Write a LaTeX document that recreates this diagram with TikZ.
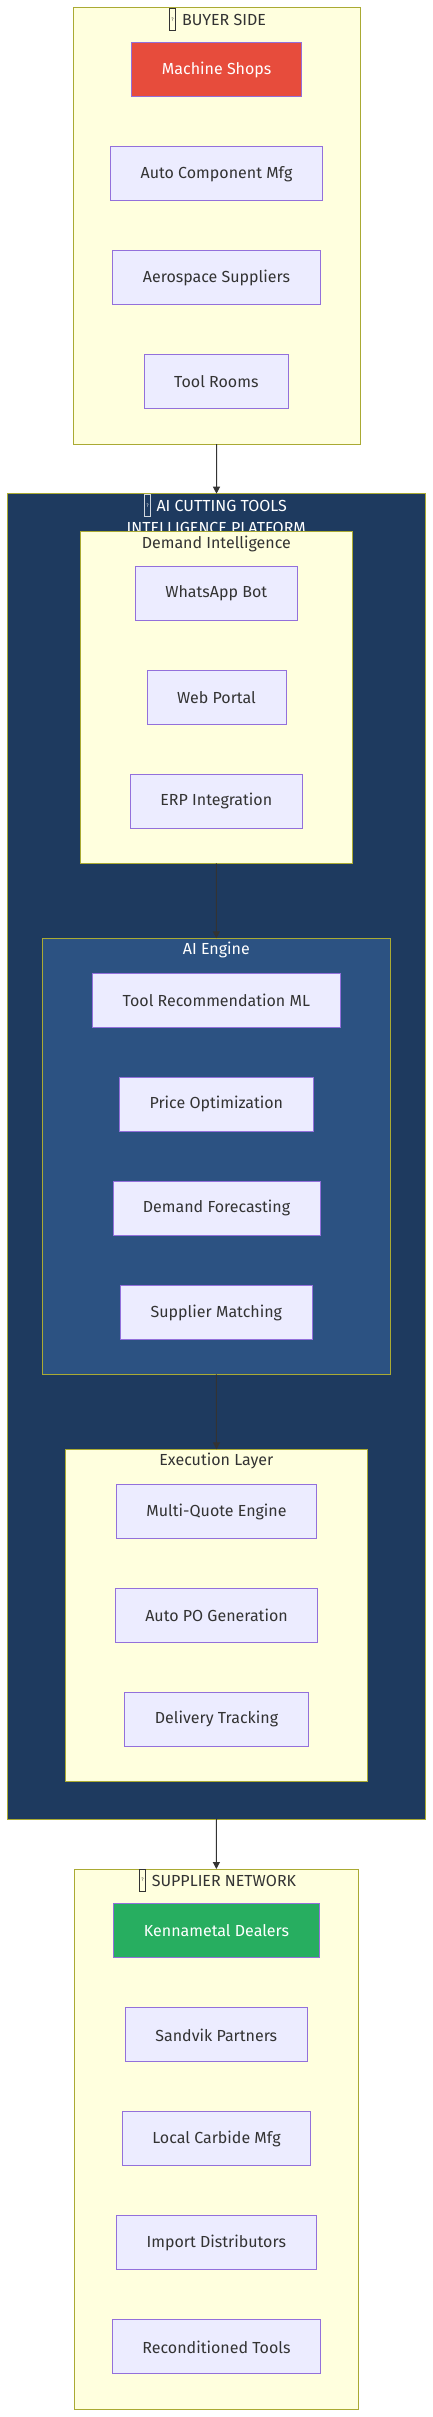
\documentclass[tikz,border=0pt]{standalone}
\usepackage{fontspec}
\setmainfont{Fira Sans}
\usetikzlibrary{arrows.meta}
\definecolor{clfill}{HTML}{FFFFDE}
\definecolor{clstroke}{HTML}{AAAA33}
\definecolor{ndfill}{HTML}{ECECFF}
\definecolor{ndstroke}{HTML}{9370DB}
\definecolor{txt}{HTML}{333333}
\definecolor{navy}{HTML}{1E3A5F}
\definecolor{engine}{HTML}{2C5282}
\definecolor{redn}{HTML}{E74C3C}
\definecolor{greenn}{HTML}{27AE60}
\begin{document}
\begin{tikzpicture}[x=1pt,y=-1pt,
  cluster/.style={draw=clstroke, fill=clfill, line width=1pt, inner sep=0pt, outer sep=0pt},
  nd/.style={draw=ndstroke, fill=ndfill, line width=1pt, minimum height=54pt, inner sep=0pt, outer sep=0pt, text=txt, font=\fontsize{16}{19}\selectfont},
  ttl/.style={text=txt, font=\fontsize{16}{19}\selectfont, inner sep=0pt},
  tofu/.style={draw=txt, line width=0.6pt, minimum width=6.5pt, minimum height=22pt, inner sep=0pt, text=txt, font=\fontsize{5}{5}\selectfont},
  arr/.style={draw=txt, line width=1pt, -{Triangle[length=7pt,width=7pt]}}]
\useasboundingbox (0,0) rectangle (433,2417);
\fill[white] (0,0) rectangle (433,2417);

% BUYER SIDE
\node[cluster, minimum width=286.7pt, minimum height=436.7pt] (buyer) at (216.65,225.65) {};
\node[tofu] (buyericon) at (172.5,19.3) {?};
\node[ttl] (buyertitle) at (224,19.5) {BUYER SIDE};
\node[nd, fill=redn, text=white, minimum width=170pt] (ms) at (216.7,69.85) {Machine Shops};
\node[nd, minimum width=212.4pt] (acm) at (216.5,173.85) {Auto Component Mfg};
\node[nd, minimum width=207.6pt] (aero) at (216.5,277.85) {Aerospace Suppliers};
\node[nd, minimum width=144.7pt] (tr) at (216.35,381.85) {Tool Rooms};

% PLATFORM
\node[cluster, fill=navy, minimum width=417.6pt, minimum height=1325.3pt] (platform) at (216.5,1156.35) {};
\node[tofu, draw=white!80!navy, text=white] (platicon) at (147.5,505.3) {?};
\node[ttl, text=white] (plattitle) at (221.7,505.5) {AI CUTTING TOOLS};
\node[ttl, text=white] (plattitle2) at (216.3,527.5) {INTELLIGENCE PLATFORM};

% Demand Intelligence
\node[cluster, minimum width=272pt, minimum height=332pt] (di) at (216.3,697.3) {};
\node[ttl] (dititle) at (216.3,543.5) {Demand Intelligence};
\node[nd, minimum width=162pt] (wa) at (216.3,593.3) {WhatsApp Bot};
\node[nd, minimum width=139pt] (wp) at (216.5,697.3) {Web Portal};
\node[nd, minimum width=172pt] (erp) at (216.3,801.3) {ERP Integration};

% AI Engine
\node[cluster, fill=engine, minimum width=347.3pt, minimum height=436pt] (ai) at (216.35,1156.3) {};
\node[ttl, text=white] (aititle) at (216.3,950.3) {AI Engine};
\node[nd, minimum width=247.3pt] (trml) at (216.35,1000.3) {Tool Recommendation ML};
\node[nd, minimum width=194pt] (po) at (216.3,1104.3) {Price Optimization};
\node[nd, minimum width=207pt] (df) at (216.5,1208.2) {Demand Forecasting};
\node[nd, minimum width=191.3pt] (sm) at (216.35,1312.5) {Supplier Matching};

% Execution Layer
\node[cluster, minimum width=302.4pt, minimum height=331.7pt] (ex) at (216.5,1615.15) {};
\node[ttl] (extitle) at (216.3,1461.3) {Execution Layer};
\node[nd, minimum width=200.4pt] (mq) at (216.5,1511.5) {Multi-Quote Engine};
\node[nd, minimum width=202.4pt] (apo) at (216.5,1615.3) {Auto PO Generation};
\node[nd, minimum width=183.6pt] (dt) at (216.5,1719.3) {Delivery Tracking};

% SUPPLIER NETWORK
\node[cluster, minimum width=283.3pt, minimum height=540pt] (sup) at (216.35,2139) {};
\node[tofu] (supicon) at (142.5,1880.2) {?};
\node[ttl] (suptitle) at (224,1880.5) {SUPPLIER NETWORK};
\node[nd, fill=greenn, text=white, minimum width=205.6pt] (ken) at (216.5,1930.85) {Kennametal Dealers};
\node[nd, minimum width=182pt] (san) at (216.3,2034.85) {Sandvik Partners};
\node[nd, minimum width=188.4pt] (lcm) at (216.5,2138.85) {Local Carbide Mfg};
\node[nd, minimum width=200pt] (imp) at (216.3,2242.85) {Import Distributors};
\node[nd, minimum width=208.4pt] (rec) at (216.5,2346.85) {Reconditioned Tools};

% connectors
\draw[arr] (buyer.south) -- (platform.north);
\draw[arr] (di.south) -- (ai.north);
\draw[arr] (ai.south) -- (ex.north);
\draw[arr] (platform.south) -- (sup.north);
\end{tikzpicture}
\end{document}
